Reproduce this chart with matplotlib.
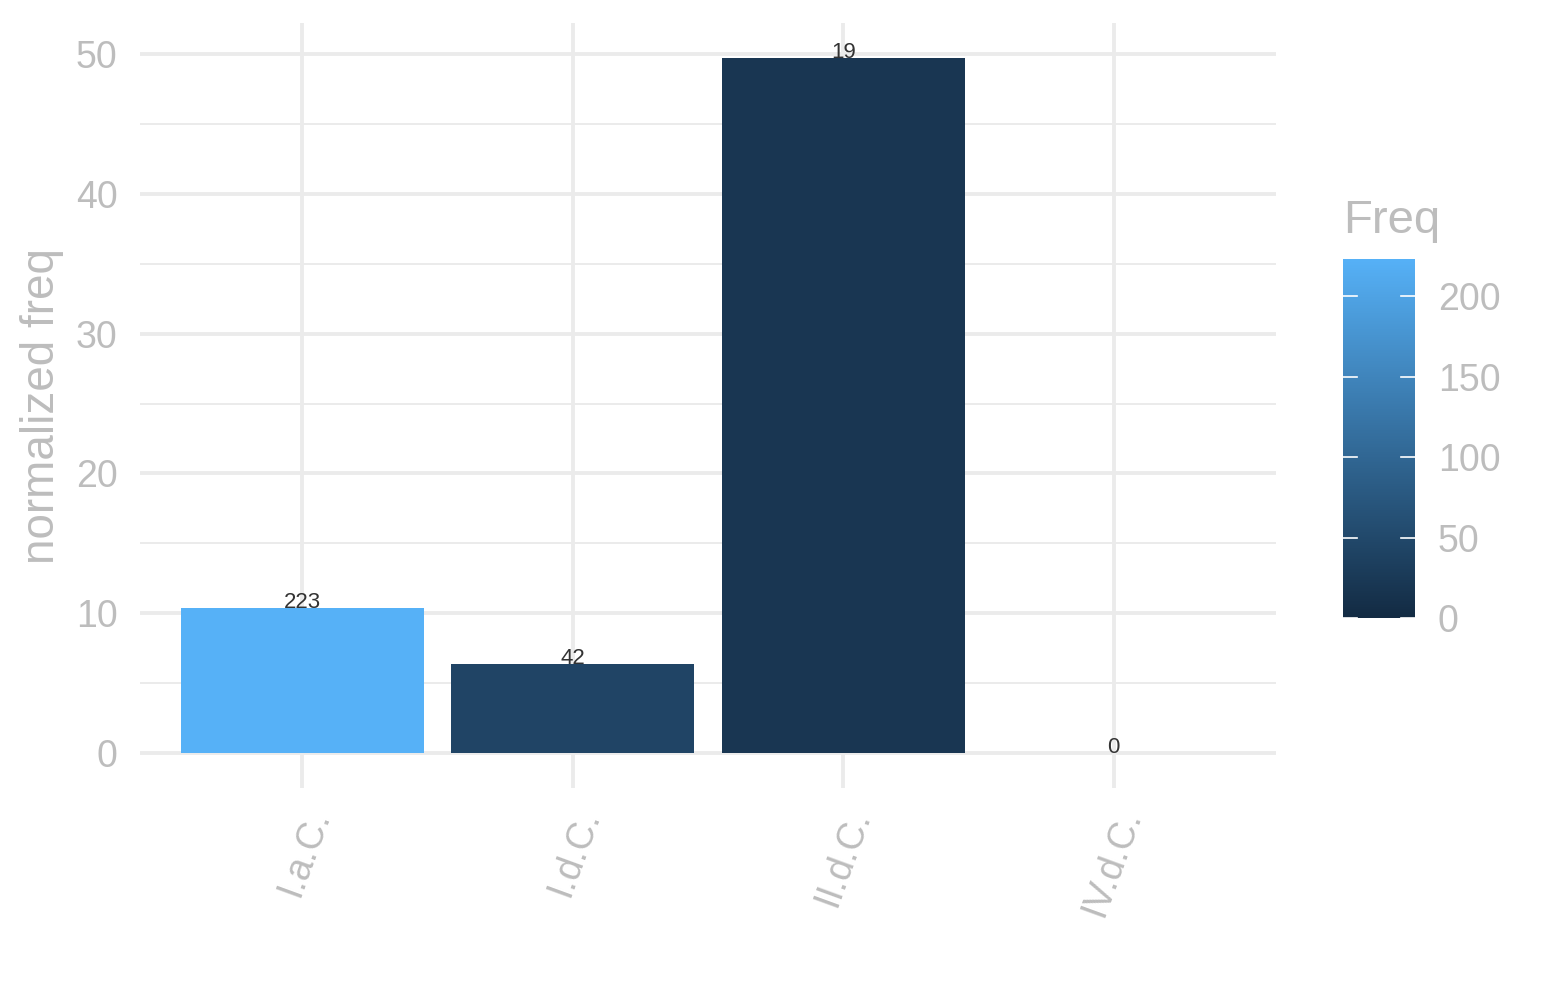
import matplotlib
matplotlib.use('Agg')
import matplotlib.pyplot as plt
from matplotlib.colors import LinearSegmentedColormap, Normalize
import numpy as np

categories = ['I.a.C.', 'I.d.C.', 'II.d.C.', 'IV.d.C.']
norm_freq = [10.4, 6.4, 49.7, 0.0]
freq = [223, 42, 19, 0]
y_ticks = [0, 10, 20, 30, 40, 50]
cbar_ticks = [0, 50, 100, 150, 200]

plt.rcParams['font.family'] = ['Liberation Sans', 'DejaVu Sans']
grey = '#BDBDBD'
grid_col = '#EBEBEB'

cmap = LinearSegmentedColormap.from_list('gg', ['#132B43', '#56B1F7'])
cnorm = Normalize(vmin=min(freq), vmax=max(freq))

fig = plt.figure(figsize=(15.45, 10), dpi=100)
ax = fig.add_axes([140 / 1545, 212 / 1000, 1136 / 1545, 765 / 1000])

x = np.arange(1, len(categories) + 1)
ax.set_xlim(0.4, 4.6)
ax.set_ylim(-2.485, 52.2)

# grid
for v in np.arange(5, 50, 10):
    ax.axhline(v, color=grid_col, lw=1.4, zorder=0)
for v in y_ticks:
    ax.axhline(v, color=grid_col, lw=2.8, zorder=0)
for v in x:
    ax.axvline(v, color=grid_col, lw=2.8, zorder=0)

ax.bar(x, norm_freq, width=0.9, color=cmap(cnorm(freq)), zorder=2)
for xi, yi, f in zip(x, norm_freq, freq):
    ax.text(xi, yi, str(f), ha='center', va='baseline', fontsize=16,
            color='#333333', zorder=3)

for s in ax.spines.values():
    s.set_visible(False)
ax.tick_params(length=0, colors=grey, labelsize=27)
ax.tick_params(axis='y', pad=16)
ax.set_yticks(y_ticks)
ax.set_xticks(x)
ax.set_xticklabels(categories, rotation=70, ha='right', va='top',
                   rotation_mode='anchor')
ax.tick_params(axis='x', pad=12)
ax.set_ylabel('normalized freq', color=grey, fontsize=33, labelpad=9)

# colour bar legend
cax = fig.add_axes([1343 / 1545, (1000 - 618) / 1000, 72 / 1545, 359 / 1000])
grad = np.linspace(min(freq), max(freq), 256).reshape(-1, 1)
cax.imshow(grad, aspect='auto', cmap=cmap, norm=cnorm, origin='lower',
           extent=[0, 1, min(freq), max(freq)])
cax.set_xlim(0, 1)
cax.set_ylim(min(freq), max(freq))
for t in cbar_ticks:
    cax.plot([0, 0.2], [t, t], color='white', lw=1.2)
    cax.plot([0.8, 1], [t, t], color='white', lw=1.2)
for s in cax.spines.values():
    s.set_visible(False)
cax.set_xticks([])
cax.yaxis.tick_right()
cax.set_yticks(cbar_ticks)
cax.tick_params(length=0, colors=grey, labelsize=27, pad=16.5)
cax.set_title('Freq', color=grey, fontsize=34, loc='left', pad=19)

fig.savefig('out.png', dpi=100, facecolor='white')
